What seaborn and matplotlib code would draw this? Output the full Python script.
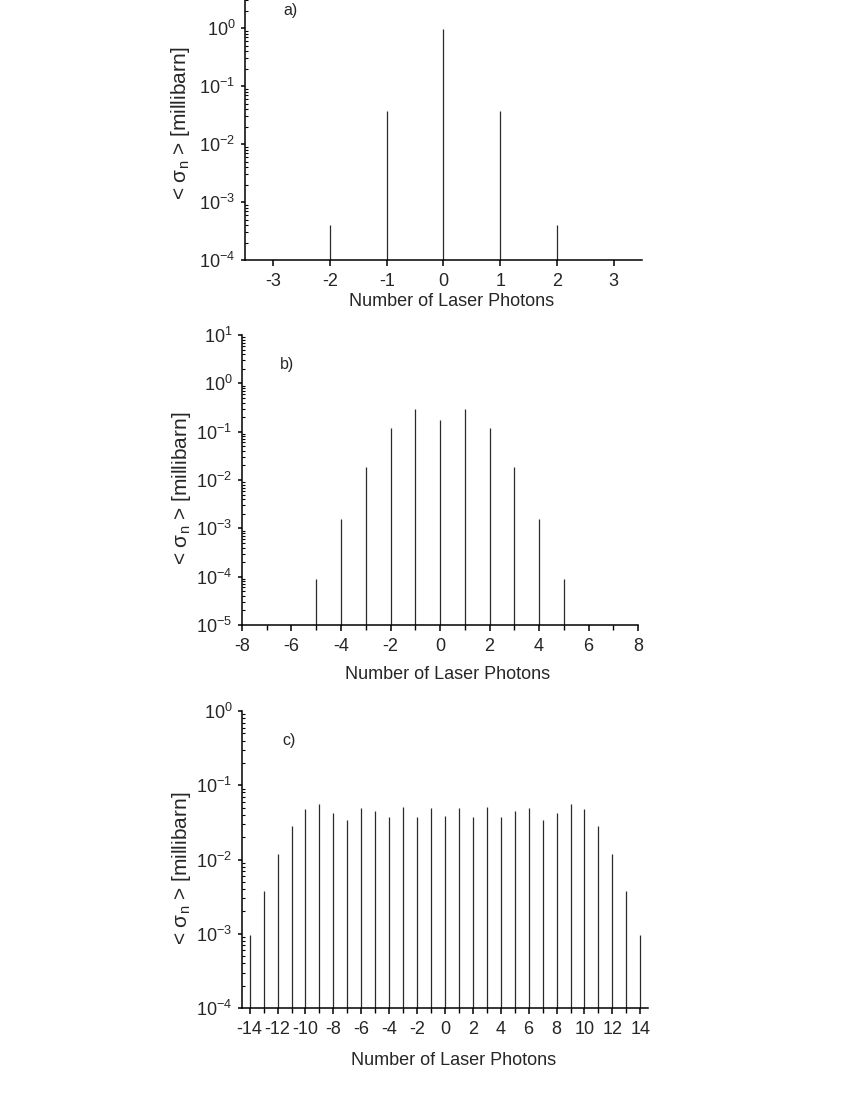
import matplotlib
matplotlib.use("Agg")
import matplotlib.pyplot as plt
import seaborn as sns
from matplotlib.ticker import MultipleLocator, LogLocator, FixedLocator, NullFormatter

# values
photons_a = [-2, -1, 0, 1, 2]
sigma_a = [4.1e-4, 0.037, 0.95, 0.037, 4.1e-4]

photons_b = [-5, -4, -3, -2, -1, 0, 1, 2, 3, 4, 5]
sigma_b = [9.1e-5, 1.6e-3, 0.019, 0.117, 0.29, 0.174, 0.29, 0.117, 0.019, 1.6e-3, 9.1e-5]

photons_c = [-14, -13, -12, -11, -10, -9, -8, -7, -6, -5, -4, -3, -2, -1, 0,
             1, 2, 3, 4, 5, 6, 7, 8, 9, 10, 11, 12, 13, 14]
sigma_c = [9.7e-4, 3.8e-3, 0.0119, 0.0284, 0.0485, 0.0561, 0.042, 0.0342, 0.050, 0.0452,
           0.0375, 0.0516, 0.0371, 0.0496, 0.0387,
           0.0496, 0.0371, 0.0516, 0.0375, 0.0452, 0.050, 0.0342, 0.042, 0.0561, 0.0485,
           0.0284, 0.0119, 3.8e-3, 9.7e-4]

ylabel = "< σ$_\\mathregular{n}$ > [millibarn]"
xlabel = "Number of Laser Photons"

sns.set_style("ticks")
plt.rcParams['font.family'] = ['Liberation Sans', 'DejaVu Sans']
plt.rcParams['mathtext.fontset'] = 'custom'
plt.rcParams['mathtext.rm'] = 'Liberation Sans'
plt.rcParams['mathtext.it'] = 'Liberation Sans:italic'
plt.rcParams['mathtext.default'] = 'regular'
plt.rcParams['axes.unicode_minus'] = False

fig = plt.figure(figsize=(8.5, 11), dpi=100)


def panel(rect, n, sigma, ylim, xlim, xmajor, xminor, tag, tag_y, xlab_y, ylab_x, decades):
    ax = fig.add_axes(rect)
    ax.vlines(n, ylim[0], sigma, color='#2a2a2a', lw=0.9)
    ax.set_yscale('log')
    ax.set_ylim(*ylim)
    ax.set_xlim(*xlim)
    ax.xaxis.set_major_locator(MultipleLocator(xmajor))
    if xminor:
        ax.xaxis.set_minor_locator(MultipleLocator(xminor))
    ax.yaxis.set_major_locator(FixedLocator(decades))
    ax.yaxis.set_minor_locator(LogLocator(base=10, subs=range(2, 10), numticks=20))
    ax.yaxis.set_minor_formatter(NullFormatter())
    sns.despine(ax=ax)
    for s in ['left', 'bottom']:
        ax.spines[s].set_color('black')
        ax.spines[s].set_linewidth(1.1)
    ax.tick_params(axis='y', which='major', direction='out', length=3, width=1.1,
                   pad=4, labelsize=13, color='black')
    ax.tick_params(axis='y', which='minor', direction='in', length=2, width=0.8, color='black')
    ax.tick_params(axis='x', which='major', direction='out', length=4, width=1.1,
                   pad=5, labelsize=13, color='black')
    ax.tick_params(axis='x', which='minor', direction='out', length=3.5, width=1.0, color='black')
    ax.set_xlabel(xlabel, fontsize=13)
    ax.xaxis.set_label_coords(0.52, xlab_y)
    ax.set_ylabel(ylabel, fontsize=15)
    ax.yaxis.set_label_coords(ylab_x, 0.47)
    ax.text(0.115, tag_y, tag, transform=ax.transAxes, fontsize=11.5, ha='center', va='center')
    return ax


panel([0.2882, 0.7636, 0.467, 0.2636], photons_a, sigma_a, (1e-4, 10), (-3.5, 3.5),
      1, None, "a)", 0.86, -0.114, -0.134, [1e-4, 1e-3, 1e-2, 1e-1, 1e0])
panel([0.2847, 0.4318, 0.4659, 0.2636], photons_b, sigma_b, (1e-5, 10), (-8, 8),
      2, 1, "b)", 0.9, -0.143, -0.124, [1e-5, 1e-4, 1e-3, 1e-2, 1e-1, 1e0, 1e1])
panel([0.2847, 0.0836, 0.4776, 0.27], photons_c, sigma_c, (1e-4, 1), (-14.55, 14.55),
      2, 1, "c)", 0.9, -0.149, -0.121, [1e-4, 1e-3, 1e-2, 1e-1, 1e0])

fig.savefig("out.png", dpi=100)
